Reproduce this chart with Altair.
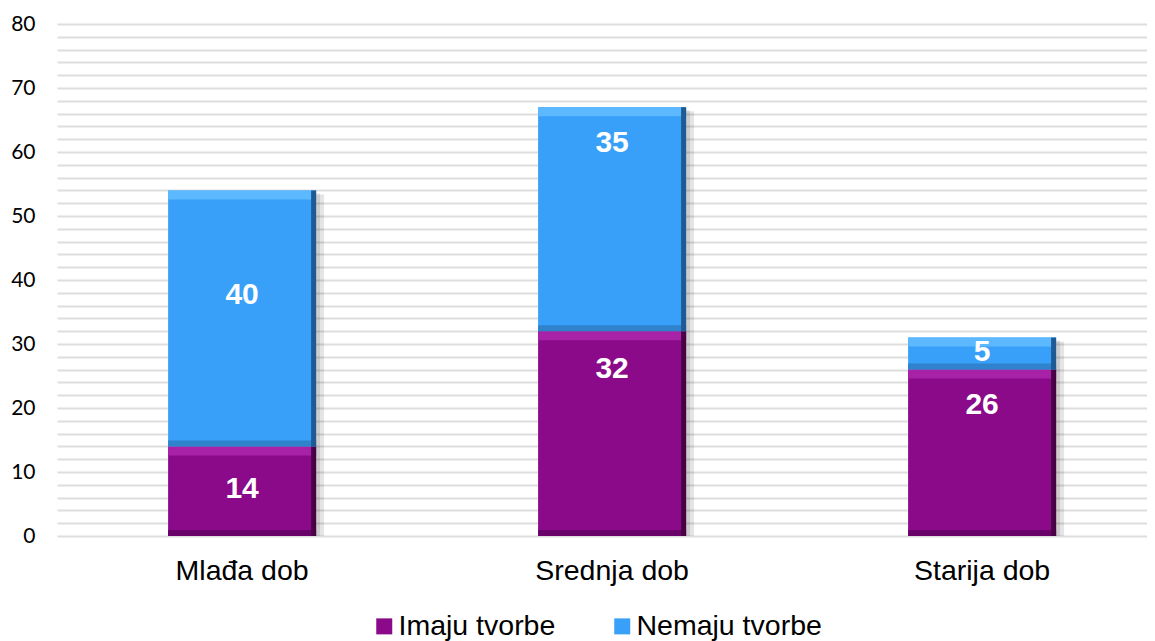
import altair as alt
import pandas as pd

categories = ["Mlađa dob", "Srednja dob", "Starija dob"]
series = ["Imaju tvorbe", "Nemaju tvorbe"]
imaju = [14, 32, 26]
nemaju = [40, 35, 5]
# where each value label sits on the value axis
label_at_imaju = [7.3, 26.1, 20.5]
label_at_nemaju = [37.7, 61.4, 28.7]
colors = ["#8a0a8a", "#38a0f8"]
top_light = ["#a822a8", "#5cb9ff"]
bottom_dark = ["#6a006a", "#2f82cc"]
side_dark = ["#4a0045", "#1f5a94"]

rows = []
for i, c in enumerate(categories):
    rows.append(dict(cat=c, series=series[0], lo=0, hi=imaju[i], v=imaju[i], lab=label_at_imaju[i]))
    rows.append(dict(cat=c, series=series[1], lo=imaju[i], hi=imaju[i] + nemaju[i], v=nemaju[i], lab=label_at_nemaju[i]))
df = pd.DataFrame(rows)
totals = pd.DataFrame(dict(cat=categories, total=[a + b for a, b in zip(imaju, nemaju)]))

xscale = alt.Scale(paddingInner=0.6, paddingOuter=0.273, align=0.55)
xaxis = alt.Axis(title=None, labelAngle=0, labelFont="Liberation Sans", labelFontSize=28.5,
                 labelColor="#000", ticks=False, tickSize=0, domain=False, labelPadding=20, grid=False)
yscale = alt.Scale(domain=[0, 80], nice=False)
yaxis = alt.Axis(title=None, values=list(range(0, 81, 2)),
                 labelExpr="datum.value % 10 == 0 ? datum.label : ''",
                 labelOverlap=False, labelFlush=False,
                 grid=True, gridColor="#dedede", gridWidth=2, domain=False, ticks=False, tickSize=0,
                 labelFont="Lato", labelFontSize=21, labelPadding=22, labelColor="#000")

X = alt.X("cat:N", sort=categories, scale=xscale, axis=xaxis)

shadow = alt.Chart(totals).mark_bar(color="#000", opacity=0.10, xOffset=8, yOffset=4).encode(
    x=X,
    y=alt.Y("total:Q", scale=yscale, axis=yaxis),
    y2=alt.datum(0),
)
shadow2 = alt.Chart(totals).mark_bar(color="#000", opacity=0.10, xOffset=4, yOffset=3).encode(
    x=X,
    y=alt.Y("total:Q", scale=yscale, axis=yaxis),
    y2=alt.datum(0),
)

bars = alt.Chart(df).mark_bar().encode(
    x=X,
    y=alt.Y("lo:Q", scale=yscale, axis=yaxis),
    y2="hi:Q",
    color=alt.Color("series:N", scale=alt.Scale(domain=series, range=colors),
                    legend=alt.Legend(title=None, orient="none", legendX=313, legendY=588,
                                      direction="horizontal", symbolType="square", symbolSize=256,
                                      symbolStrokeWidth=0, labelFont="Liberation Sans",
                                      labelFontSize=28.5, labelColor="#000", labelOffset=0,
                                      columnPadding=52, labelLimit=0)),
)

bevel_layers = []
for s, tl, bd, sd in zip(series, top_light, bottom_dark, side_dark):
    base = alt.Chart(df).transform_filter(alt.datum.series == s)
    bevel_layers.append(base.mark_tick(color=tl, thickness=9, size=148, yOffset=4.5, opacity=1).encode(
        x=X, y=alt.Y("hi:Q", scale=yscale, axis=yaxis)))
    bevel_layers.append(base.mark_tick(color=bd, thickness=6, size=148, yOffset=-3, opacity=1).encode(
        x=X, y=alt.Y("lo:Q", scale=yscale, axis=yaxis)))
    bevel_layers.append(base.mark_bar(color=sd, width=5, xOffset=71.5).encode(
        x=X, y=alt.Y("lo:Q", scale=yscale, axis=yaxis), y2="hi:Q"))

labels = alt.Chart(df).mark_text(color="white", fontWeight="bold", font="Liberation Sans",
                                 fontSize=30, baseline="middle").encode(
    x=X,
    y=alt.Y("lab:Q", scale=yscale, axis=yaxis),
    text="v:Q",
)

chart = alt.layer(shadow, shadow2, bars, *bevel_layers, labels).properties(
    width=1090, height=512,
    autosize=alt.AutoSizeParams(type="none"),
    padding={"left": 49, "top": 16, "right": 0, "bottom": 105},
).configure_view(stroke=None)

chart.save("out.html", embed_options={"renderer": "svg", "actions": False})
